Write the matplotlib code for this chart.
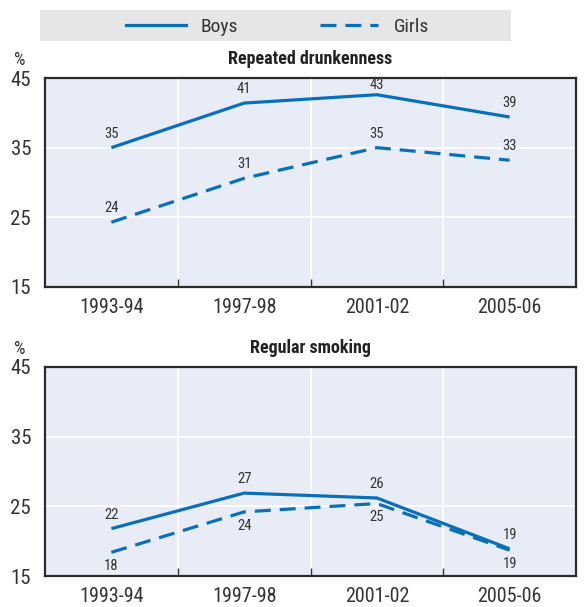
import matplotlib.pyplot as plt
from matplotlib import font_manager
from matplotlib.lines import Line2D
from matplotlib.patches import Rectangle

periods = ["1993-94", "1997-98", "2001-02", "2005-06"]

drunk_boys = [35.0, 41.4, 42.6, 39.4]
drunk_girls = [24.3, 30.6, 35.0, 33.2]
smoke_boys = [21.8, 26.9, 26.2, 18.9]
smoke_girls = [18.4, 24.2, 25.4, 18.7]

yticks = [15, 25, 35, 45]

BLUE = "#0a6fba"
BG = "#e8ecf6"
TXT = "#333333"

# narrow sans if one is around, else condensed DejaVu
have = {f.name for f in font_manager.fontManager.ttflist}
family = next((f for f in ['Roboto Condensed', 'Archivo Narrow', 'Liberation Sans Narrow']
               if f in have), 'DejaVu Sans')
plt.rcParams['font.family'] = [family, 'DejaVu Sans']
plt.rcParams['font.stretch'] = 'condensed'

W, H = 588, 607
fig = plt.figure(figsize=(W / 100, H / 100), dpi=100)


def px_axes(x0, y0, x1, y1):
    return fig.add_axes([x0 / W, 1 - y1 / H, (x1 - x0) / W, (y1 - y0) / H])


def panel(ax, title, boys, girls, girls_below):
    x = range(len(periods))
    ax.set_facecolor(BG)
    ax.set_xlim(-0.5, len(periods) - 0.5)
    ax.set_ylim(15, 45)
    ax.set_yticks(yticks)
    ax.tick_params(axis='y', length=0, pad=10, labelsize=15, labelcolor=TXT)
    # category boundaries carry the ticks and grid, labels sit at centres
    bounds = [i + 0.5 for i in range(len(periods) - 1)]
    ax.set_xticks(bounds)
    ax.set_xticklabels([])
    ax.tick_params(axis='x', which='major', direction='in', length=6, width=1, color=TXT)
    ax.set_xticks(list(x), minor=True)
    ax.set_xticklabels(periods, minor=True)
    ax.tick_params(axis='x', which='minor', length=0, pad=8, labelsize=14.5, labelcolor=TXT)
    ax.grid(True, which='major', color='white', lw=1.2)
    ax.set_axisbelow(True)
    for s in ax.spines.values():
        s.set_color('#2b2b2b')
        s.set_linewidth(1.6)

    ax.plot(x, boys, color=BLUE, lw=2.3, solid_capstyle='butt')
    ax.plot(x, girls, color=BLUE, lw=2.3, dashes=(5, 2.8))

    # points of headroom between a value and the top frame
    pt_per_unit = ax.bbox.height * 72 / fig.dpi / 30
    for i, v in enumerate(boys):
        dy = min(5, (45 - v) * pt_per_unit - 10)
        ax.annotate(f"{v:.0f}", (i, v), xytext=(0, dy), textcoords='offset points',
                    ha='center', va='bottom', fontsize=10.5, color=TXT)
    for i, v in enumerate(girls):
        below = girls_below[i]
        ax.annotate(f"{v:.0f}", (i, v), xytext=(0, -5 if below else 5),
                    textcoords='offset points', ha='center',
                    va='top' if below else 'bottom', fontsize=10.5, color=TXT)
    ax.text(0.5, 1.05, title, transform=ax.transAxes, ha='center', va='bottom',
            fontsize=13, fontweight='bold', color='#222222')
    ax.text(-0.047, 1.045, "%", transform=ax.transAxes, ha='center', va='bottom',
            fontsize=13, color=TXT)


ax1 = px_axes(45, 78, 576, 287)
panel(ax1, "Repeated drunkenness", drunk_boys, drunk_girls, [False] * 4)

ax2 = px_axes(45, 367, 576, 576)
panel(ax2, "Regular smoking", smoke_boys, smoke_girls, [True] * 4)

# legend band
fig.patches.append(Rectangle((40 / W, 1 - 41 / H), 471 / W, 31 / H,
                             transform=fig.transFigure, facecolor='#e6e6e6',
                             edgecolor='none'))
ly = 1 - 25 / H
fig.lines.append(Line2D([126 / W, 186 / W], [ly, ly], transform=fig.transFigure,
                        color=BLUE, lw=2.3))
fig.text(200 / W, ly - 2 / H, "Boys", ha='left', va='center', fontsize=14, color=TXT)
fig.lines.append(Line2D([320 / W, 378 / W], [ly, ly], transform=fig.transFigure,
                        color=BLUE, lw=2.3, dashes=(5, 2.8)))
fig.text(394 / W, ly - 2 / H, "Girls", ha='left', va='center', fontsize=14, color=TXT)

fig.savefig("out.png", dpi=100)
